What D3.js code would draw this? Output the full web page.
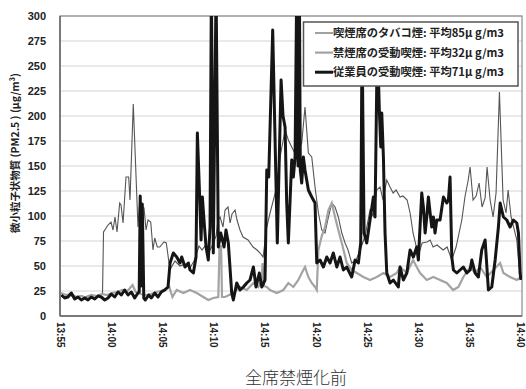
<html>
<head>
<meta charset="utf-8">
<script src="https://d3js.org/d3.v7.min.js"></script>
<style>
  body { margin: 0; background: #fff; }
  text { font-family: "Liberation Sans", Arial, sans-serif; }
  .jp { font-family: "Noto Sans CJK JP", sans-serif; }
</style>
</head>
<body>
<svg width="526" height="389"></svg>
<script>
// minutes after 13:55, value in µg/m3
var smokingSeat = [[0,20],[0.39,19],[0.88,21],[1.37,18],[1.86,20],[2.35,19],[2.84,21],[3.33,20],[3.82,21],[4.06,22],[4.16,84],
  [4.6,91],[4.89,94],[5.09,86],[5.28,99],[5.48,84],[5.74,113],[5.87,111],[6.07,93],[6.36,139],[6.62,139],[6.75,116],[7.07,212],
  [7.53,89],[7.7,116],[7.86,109],[8.12,108],[8.32,86],[8.51,96],[8.78,94],[9.0,66],[9.17,78],[9.42,69],[9.66,69],[10.08,74],
  [10.3,73],[10.57,53],[10.76,48],[11.15,55],[11.64,50],[12.13,52],[12.62,48],[13.01,55],[13.28,63],[13.5,70],[13.8,66],[14.09,70],
  [14.38,62],[14.77,70],[15.17,80],[15.36,96],[15.56,99],[15.85,89],[16.05,106],[16.34,109],[16.54,93],[16.73,102],[17.03,106],
  [17.22,96],[17.51,86],[17.81,79],[18.3,76],[18.79,69],[19.18,66],[19.47,63],[19.77,59],[20.13,89],[20.45,103],[21.11,129],
  [21.43,159],[21.92,186],[22.24,176],[22.57,169],[23.06,159],[23.55,173],[23.87,209],[24.2,163],[24.53,159],[24.85,129],[25.18,103],
  [25.51,86],[25.83,83],[26.16,99],[26.49,113],[26.81,109],[27.13,99],[27.47,83],[27.79,73],[28.08,66],[28.44,53],[28.87,56],
  [29.26,66],[29.75,80],[30.23,106],[30.53,100],[30.89,126],[31.21,129],[31.51,116],[31.87,136],[32.19,129],[32.49,123],[32.78,126],
  [33.17,119],[33.46,120],[33.86,116],[34.15,103],[34.44,83],[34.83,66],[35.03,63],[35.32,73],[35.81,74],[36.11,76],[36.4,69],
  [36.79,71],[37.38,66],[37.77,69],[38.23,56],[38.65,69],[39.21,96],[39.53,120],[39.82,135],[40.02,149],[40.31,116],[40.61,120],
  [40.9,133],[41.19,109],[41.49,118],[41.68,149],[41.98,116],[42.27,99],[42.56,123],[42.89,224],[43.25,116],[43.54,103],[43.74,126],
  [44.03,99],[44.59,76],[44.81,49],[45,38]];

var nonSmokingSeat = [[0,23],[0.5,21],[1.0,22],[1.5,19],[2.0,20],[2.5,18],[3.0,21],[3.5,20],[4.0,22],[4.5,21],[5.0,23],[5.5,24],
  [6.0,26],[6.5,25],[7.0,31],[7.3,24],[7.8,22],[8.3,21],[8.8,22],[9.3,24],[9.8,25],[10.2,27],[10.6,29],[10.9,19],[11.32,26],
  [11.97,23],[12.62,26],[13.28,23],[13.92,19],[14.41,16],[14.9,18],[15.39,19],[15.51,70],[15.66,70],[15.75,19],[16.05,19],
  [16.86,23],[17.51,29],[18.17,26],[18.82,33],[19.31,29],[19.64,36],[19.72,53],[19.86,30],[20.13,29],[20.45,26],[21.11,23],
  [21.75,26],[22.24,33],[22.73,29],[23.22,36],[23.55,43],[23.87,49],[24.2,39],[24.53,33],[24.85,29],[25.02,26],[25.18,66],
  [25.51,80],[25.83,89],[26.16,106],[26.49,113],[26.81,99],[27.13,86],[27.47,73],[27.95,53],[28.44,46],[28.93,43],[29.58,39],
  [30.23,36],[30.89,39],[31.54,43],[32.19,39],[32.85,43],[33.17,49],[33.83,43],[34.44,56],[34.8,49],[35.13,43],[35.78,36],
  [36.43,39],[37.08,36],[37.74,33],[38.36,26],[38.88,29],[39.36,39],[40.02,49],[40.51,43],[41.0,49],[41.65,39],[42.3,46],
  [42.96,53],[43.28,43],[43.93,39],[44.59,36],[45,39]];

var staff = [[0.03,21],[0.36,18],[0.68,19],[1.01,23],[1.34,17],[1.66,19],[1.99,16],[2.32,18],[2.64,16],[2.96,19],[3.3,17],[3.62,20],
  [3.94,19],[4.28,16],[4.6,18],[4.92,22],[5.25,19],[5.58,24],[5.9,21],[6.23,26],[6.56,21],[6.88,24],[7.21,18],[7.53,23],[7.65,24],
  [7.75,120],[7.85,30],[7.95,112],[8.1,18],[8.25,16],[8.58,21],[8.84,18],[9.17,23],[9.49,19],[9.81,24],[10.15,26],[10.47,29],
  [10.67,53],[10.99,63],[11.32,59],[11.64,53],[11.81,59],[12.13,49],[12.46,53],[12.62,46],[12.95,43],[13.21,59],[13.34,183],
  [13.53,129],[13.7,76],[13.83,119],[13.99,96],[14.19,69],[14.41,56],[14.58,89],[14.71,330],[14.9,63],[15.17,330],[15.39,69],
  [15.63,83],[15.95,69],[16.14,86],[16.37,73],[16.7,23],[16.86,16],[17.19,33],[17.52,26],[17.84,29],[18.17,33],[18.49,36],
  [18.82,49],[19.08,29],[19.4,43],[19.64,29],[19.96,36],[20.13,146],[20.32,139],[20.71,286],[21.16,73],[21.53,236],[21.72,200],
  [21.92,189],[22.08,113],[22.24,73],[22.57,156],[22.73,139],[22.9,159],[23.06,330],[23.19,150],[23.32,330],[23.41,146],[23.55,133],
  [23.71,159],[23.87,146],[24.2,126],[24.53,119],[24.69,116],[24.85,113],[25.02,53],[25.34,56],[25.67,49],[26.0,59],[26.32,53],
  [26.64,63],[26.98,49],[27.3,59],[27.62,46],[27.95,49],[28.44,39],[28.77,56],[29.09,53],[29.32,73],[29.45,280],[29.65,83],
  [29.91,73],[30.23,96],[30.56,119],[30.72,99],[30.95,280],[31.14,206],[31.28,169],[31.38,203],[31.54,159],[31.7,83],[31.87,43],
  [32.19,33],[32.51,36],[33.0,29],[33.17,49],[33.49,36],[33.83,43],[34.15,66],[34.47,59],[34.8,69],[34.96,56],[35.29,123],
  [35.45,109],[35.62,83],[35.78,99],[35.94,119],[36.11,103],[36.27,89],[36.43,99],[36.59,83],[36.76,96],[37.08,96],[37.41,119],
  [37.74,113],[37.9,116],[38.06,139],[38.23,59],[38.39,46],[38.72,43],[39.04,46],[39.36,49],[39.7,43],[40.02,46],[40.19,56],
  [40.51,43],[40.83,39],[41.16,66],[41.49,76],[41.81,26],[42.14,29],[42.47,56],[42.79,89],[42.96,113],[43.28,99],[43.61,96],
  [43.93,89],[44.26,96],[44.59,93],[44.75,83],[44.91,43],[45,36]];

var tickMinutes = [0,5,10,15,20,25,30,35,40,45];
var tickLabels = ["13:55","14:00","14:05","14:10","14:15","14:20","14:25","14:30","14:35","14:40"];
var yTicks = [0,25,50,75,100,125,150,175,200,225,250,275,300];
var seriesNames = ["喫煙席のタバコ煙: 平均85μ g/m3","禁煙席の受動喫煙: 平均32μ g/m3","従業員の受動喫煙: 平均71μ g/m3"];

var svg = d3.select("svg");
var plotL = 60, plotR = 522, plotT = 16, plotB = 316;

var xs = d3.scaleLinear().domain([0,45]).range([61,521]);
var ys = d3.scaleLinear().domain([0,300]).range([plotB,plotT]);

// grid
svg.append("g").selectAll("line").data(yTicks.slice(1)).enter().append("line")
  .attr("x1",plotL).attr("x2",plotR)
  .attr("y1",function(d){return ys(d);}).attr("y2",function(d){return ys(d);})
  .attr("stroke","#d4d4d4").attr("stroke-width",1);

// plot border
svg.append("rect").attr("x",plotL).attr("y",plotT).attr("width",plotR-plotL).attr("height",plotB-plotT)
  .attr("fill","none").attr("stroke","#8a8a8a").attr("stroke-width",1.2);

svg.append("clipPath").attr("id","clip").append("rect")
  .attr("x",plotL).attr("y",plotT).attr("width",plotR-plotL).attr("height",plotB-plotT);

var line = d3.line().x(function(d){return xs(d[0]);}).y(function(d){return ys(d[1]);});
var plot = svg.append("g").attr("clip-path","url(#clip)");

plot.append("path").datum(smokingSeat).attr("d",line)
  .attr("fill","none").attr("stroke","#555").attr("stroke-width",1.1);
plot.append("path").datum(nonSmokingSeat).attr("d",line)
  .attr("fill","none").attr("stroke","#a3a3a3").attr("stroke-width",2.2);
plot.append("path").datum(staff).attr("d",line)
  .attr("fill","none").attr("stroke","#151515").attr("stroke-width",3).attr("stroke-linejoin","round");

// axes
svg.append("line").attr("x1",plotL).attr("x2",plotL).attr("y1",plotT).attr("y2",plotB)
  .attr("stroke","#666").attr("stroke-width",1.5);
svg.append("line").attr("x1",plotL).attr("x2",plotR).attr("y1",plotB).attr("y2",plotB)
  .attr("stroke","#666").attr("stroke-width",1.5);

svg.append("g").selectAll("text").data(yTicks).enter().append("text")
  .attr("x",46).attr("y",function(d){return ys(d)+4;})
  .attr("text-anchor","end").attr("font-size",11).attr("font-weight","bold").attr("fill","#222")
  .text(function(d){return d;});

svg.append("g").selectAll("text").data(tickMinutes).enter().append("text")
  .attr("transform",function(d){return "translate("+(xs(d)-4)+",322) rotate(90)";})
  .attr("text-anchor","start").attr("font-size",10).attr("font-weight","bold").attr("fill","#222")
  .text(function(d,i){return tickLabels[i];});

// y title
svg.append("text").attr("class","jp")
  .attr("transform","translate(19,153) rotate(-90)")
  .attr("text-anchor","middle").attr("font-size",10.5).attr("font-weight","bold").attr("fill","#222")
  .attr("textLength",160).attr("lengthAdjust","spacingAndGlyphs")
  .text("微小粒子状物質 (PM2.5 ) (μg/m³)");

// x title
svg.append("text").attr("class","jp")
  .attr("x",296).attr("y",384).attr("text-anchor","middle")
  .attr("font-size",17).attr("fill","#333").attr("font-weight",300)
  .text("全席禁煙化前");

// legend
var lg = svg.append("g");
lg.append("rect").attr("x",303.5).attr("y",22).attr("width",214.5).attr("height",64)
  .attr("fill","#fff").attr("stroke","#555").attr("stroke-width",1.5);
var lgStroke = ["#555","#a3a3a3","#151515"], lgWidth = [1.1,2.2,3];
seriesNames.forEach(function(n,i){
  var yy = 33 + i*19.6;
  lg.append("line").attr("x1",315).attr("x2",333).attr("y1",yy).attr("y2",yy)
    .attr("stroke",lgStroke[i]).attr("stroke-width",lgWidth[i]);
  lg.append("text").attr("class","jp").attr("x",333).attr("y",yy+4)
    .attr("font-size",11).attr("font-weight","bold").attr("fill","#222")
    .attr("textLength",171).attr("lengthAdjust","spacingAndGlyphs").text(n);
});
</script>
</body>
</html>
